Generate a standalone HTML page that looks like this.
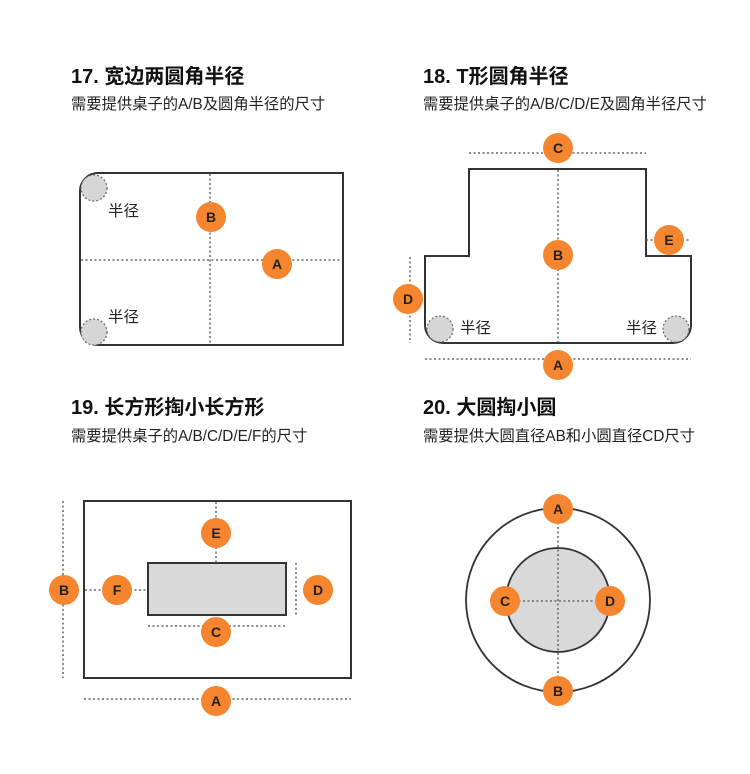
<!DOCTYPE html>
<html><head><meta charset="utf-8"><style>
body{margin:0;background:#fff;width:750px;height:774px;overflow:hidden}
svg{display:block}
.t{font-family:"Liberation Sans","Noto Sans CJK SC",sans-serif;font-weight:bold;font-size:20px;fill:#111}
.s{font-family:"Liberation Sans","Noto Sans CJK SC",sans-serif;font-size:15.3px;fill:#222}
.r{font-family:"Liberation Sans","Noto Sans CJK SC",sans-serif;font-size:15.5px;fill:#222}
.o{fill:#f5862f}
.l{font-family:"Liberation Sans",sans-serif;font-weight:bold;font-size:14px;fill:#222;text-anchor:middle}
.d{stroke:#666;stroke-width:1.5;stroke-dasharray:2 2.5;fill:none}
.e{stroke:#333;stroke-width:2;fill:none}
.g{fill:#d6d6d6;stroke:#666;stroke-width:1.2;stroke-dasharray:2 2}
</style></head><body>
<svg width="750" height="774" viewBox="0 0 750 774">
<text class="t" x="71" y="83">17. 宽边两圆角半径</text>
<text class="s" x="71" y="109">需要提供桌子的A/B及圆角半径的尺寸</text>
<text class="t" x="423" y="83">18. T形圆角半径</text>
<text class="s" x="423" y="109">需要提供桌子的A/B/C/D/E及圆角半径尺寸</text>
<text class="t" x="71" y="414">19. 长方形掏小长方形</text>
<text class="s" x="71" y="441">需要提供桌子的A/B/C/D/E/F的尺寸</text>
<text class="t" x="423" y="414">20. 大圆掏小圆</text>
<text class="s" x="423" y="441">需要提供大圆直径AB和小圆直径CD尺寸</text>

<!-- 17 -->
<path class="e" d="M98 173 H343 V345 H98 A18 18 0 0 1 80 327 V191 A18 18 0 0 1 98 173Z"/>
<line class="d" x1="210" y1="174" x2="210" y2="344"/>
<line class="d" x1="81" y1="260" x2="342" y2="260"/>
<circle class="g" cx="94" cy="188" r="13"/>
<circle class="g" cx="94" cy="332" r="13"/>
<text class="r" x="108" y="216">半径</text>
<text class="r" x="108" y="322">半径</text>
<circle cx="211" cy="217" r="15" class="o"/><text class="l" x="211" y="222">B</text>
<circle cx="277" cy="264" r="15" class="o"/><text class="l" x="277" y="269">A</text>

<!-- 18 -->
<path class="e" d="M469 256 V169 H646 V256 H691 V325 A18 18 0 0 1 673 343 H443 A18 18 0 0 1 425 325 V256 Z"/>
<line class="d" x1="558" y1="170" x2="558" y2="342"/>
<line class="d" x1="469" y1="153" x2="646" y2="153"/>
<line class="d" x1="425" y1="359" x2="691" y2="359"/>
<line class="d" x1="410" y1="257" x2="410" y2="343"/>
<line class="d" x1="646" y1="240" x2="691" y2="240"/>
<circle class="g" cx="440" cy="329" r="13"/>
<circle class="g" cx="676" cy="329" r="13"/>
<text class="r" x="460" y="333">半径</text>
<text class="r" x="626" y="333">半径</text>
<circle cx="558" cy="148" r="15" class="o"/><text class="l" x="558" y="153">C</text>
<circle cx="558" cy="255" r="15" class="o"/><text class="l" x="558" y="260">B</text>
<circle cx="669" cy="240" r="15" class="o"/><text class="l" x="669" y="245">E</text>
<circle cx="408" cy="299" r="15" class="o"/><text class="l" x="408" y="304">D</text>
<circle cx="558" cy="365" r="15" class="o"/><text class="l" x="558" y="370">A</text>

<!-- 19 -->
<rect class="e" x="84" y="501" width="267" height="177"/>
<rect x="148" y="563" width="138" height="52" fill="#d9d9d9" stroke="#333" stroke-width="2"/>
<line class="d" x1="63" y1="501" x2="63" y2="678"/>
<line class="d" x1="84" y1="699" x2="351" y2="699"/>
<line class="d" x1="216" y1="502" x2="216" y2="563"/>
<line class="d" x1="85" y1="590" x2="148" y2="590"/>
<line class="d" x1="296" y1="563" x2="296" y2="615"/>
<line class="d" x1="148" y1="626" x2="286" y2="626"/>
<circle cx="216" cy="533" r="15" class="o"/><text class="l" x="216" y="538">E</text>
<circle cx="117" cy="590" r="15" class="o"/><text class="l" x="117" y="595">F</text>
<circle cx="64" cy="590" r="15" class="o"/><text class="l" x="64" y="595">B</text>
<circle cx="318" cy="590" r="15" class="o"/><text class="l" x="318" y="595">D</text>
<circle cx="216" cy="632" r="15" class="o"/><text class="l" x="216" y="637">C</text>
<circle cx="216" cy="701" r="15" class="o"/><text class="l" x="216" y="706">A</text>

<!-- 20 -->
<circle cx="558" cy="600" r="92" fill="none" stroke="#333" stroke-width="1.8"/>
<circle cx="558" cy="600" r="52" fill="#d9d9d9" stroke="#333" stroke-width="1.8"/>
<line class="d" x1="558" y1="509" x2="558" y2="691"/>
<line class="d" x1="505" y1="601" x2="610" y2="601"/>
<circle cx="558" cy="509" r="15" class="o"/><text class="l" x="558" y="514">A</text>
<circle cx="558" cy="691" r="15" class="o"/><text class="l" x="558" y="696">B</text>
<circle cx="505" cy="601" r="15" class="o"/><text class="l" x="505" y="606">C</text>
<circle cx="610" cy="601" r="15" class="o"/><text class="l" x="610" y="606">D</text>
</svg>
</body></html>
